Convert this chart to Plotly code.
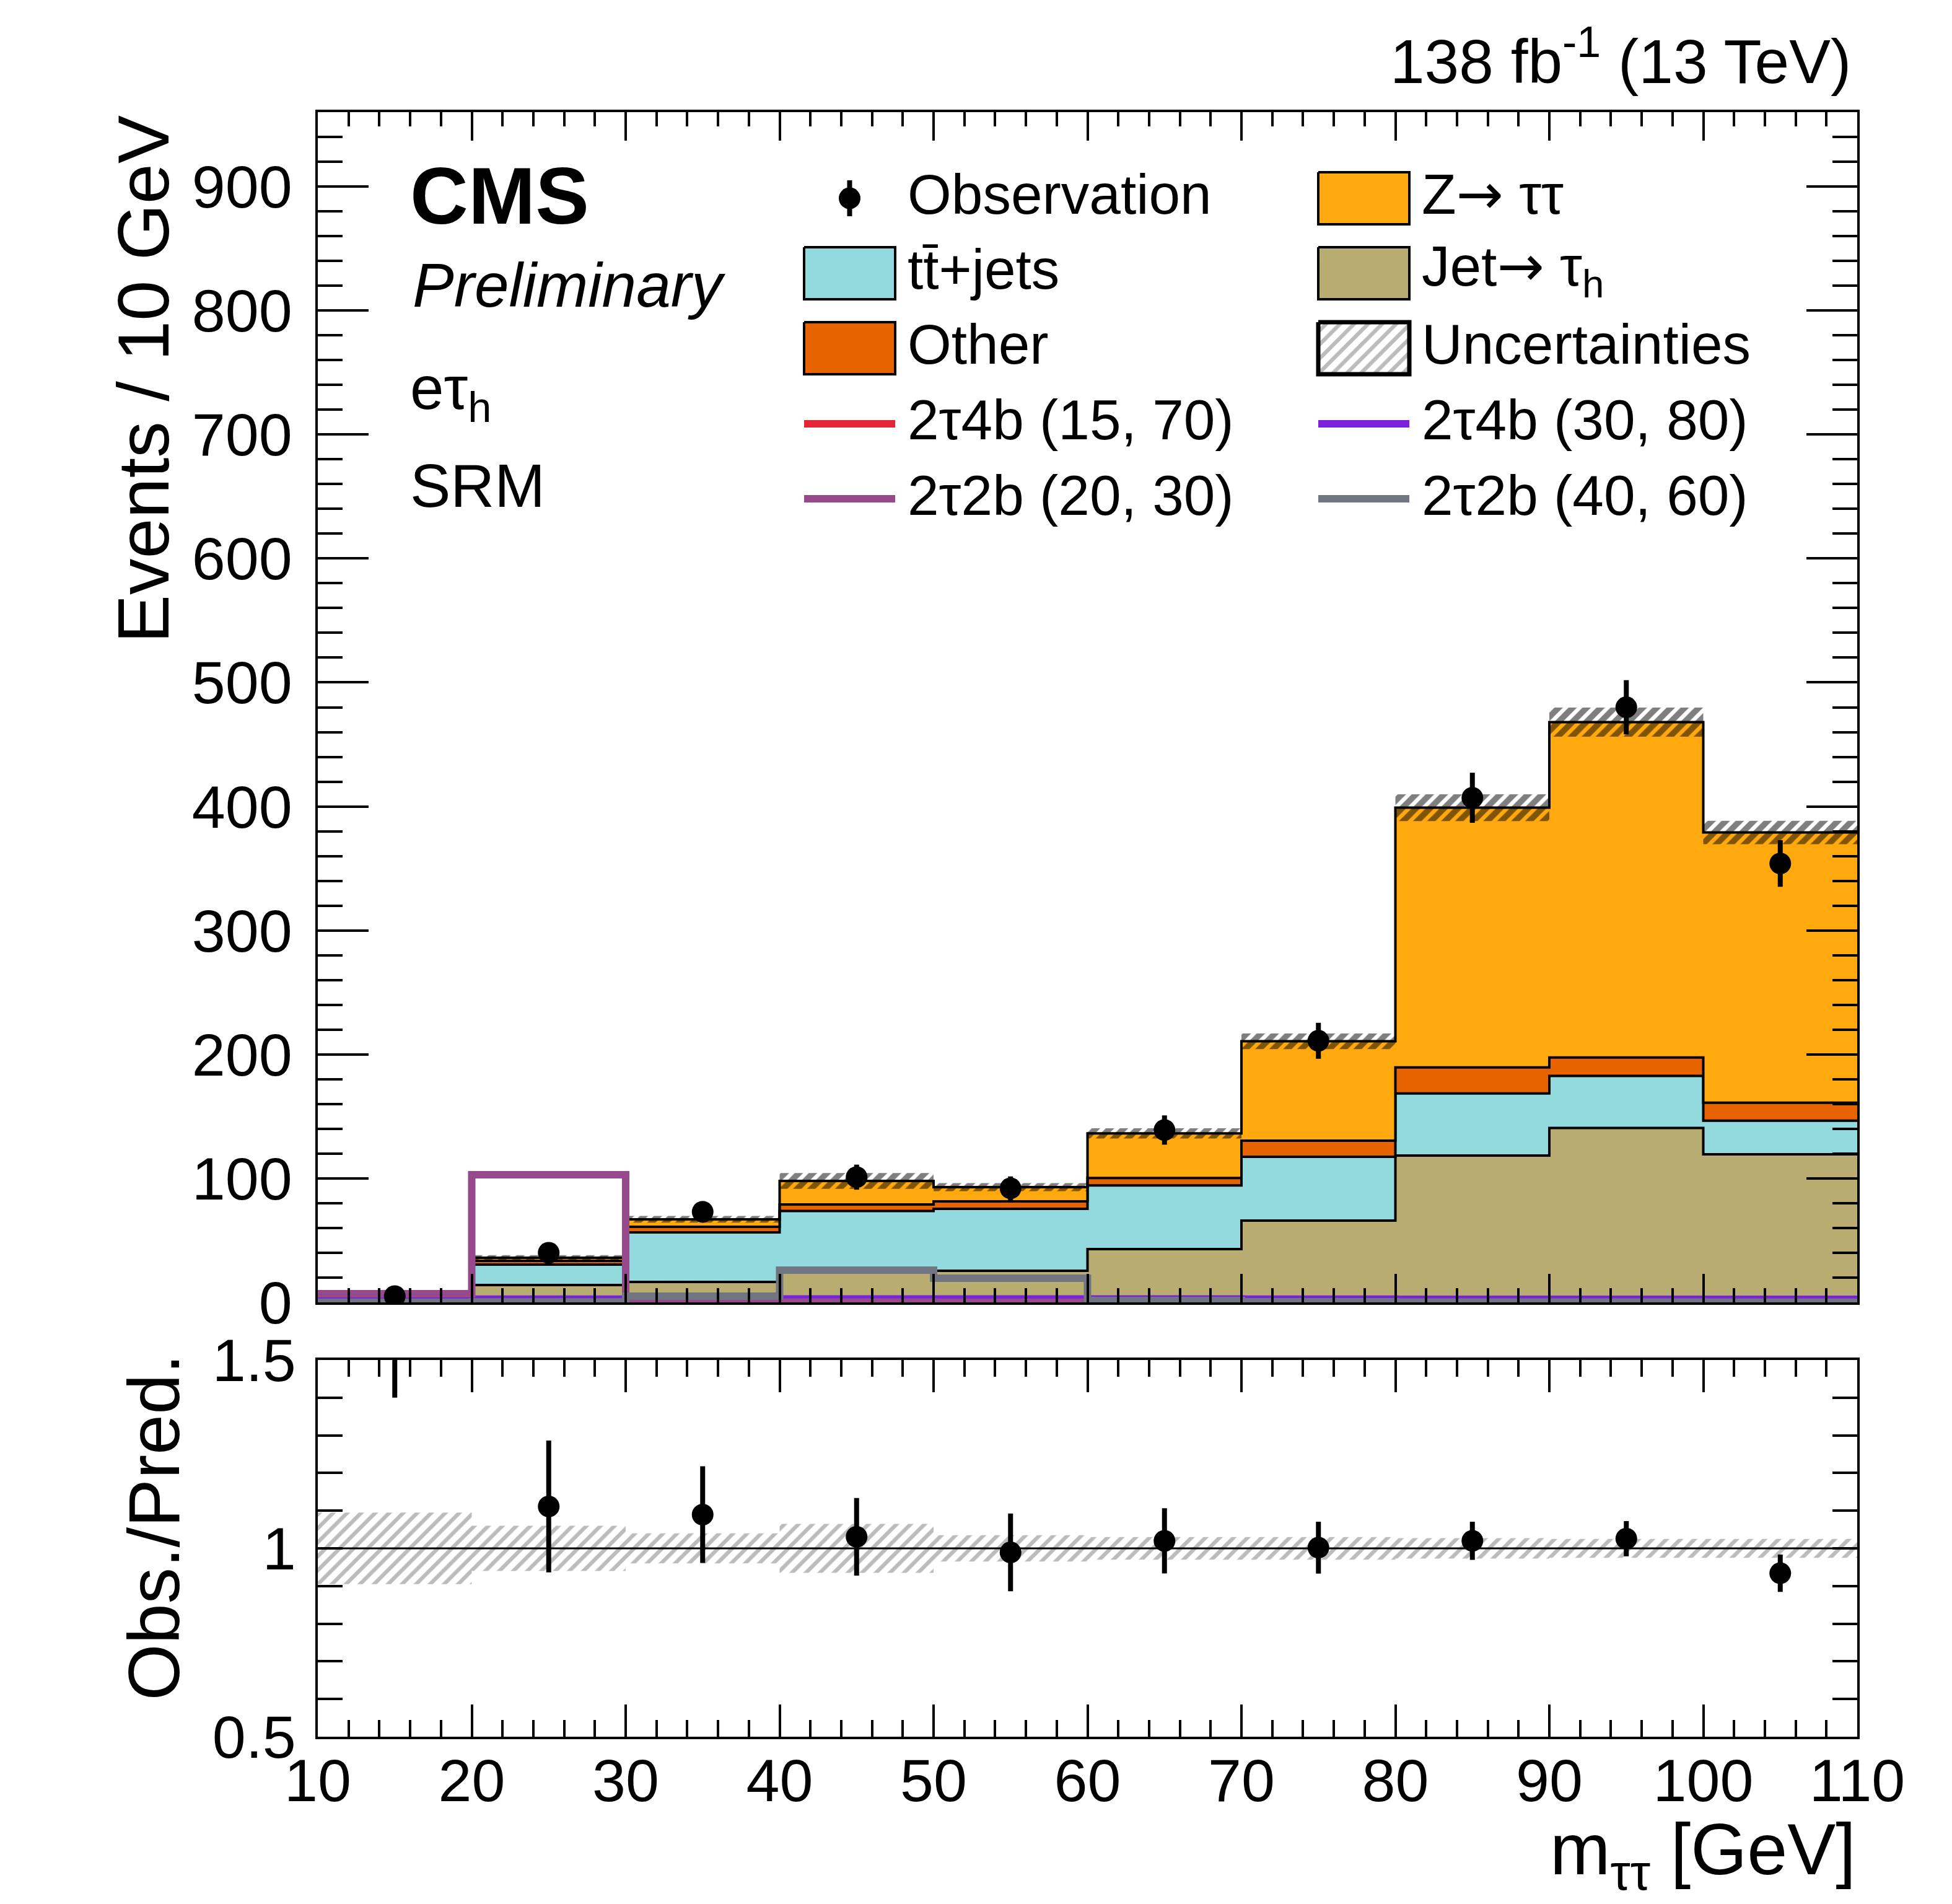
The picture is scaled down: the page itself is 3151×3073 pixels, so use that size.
import numpy as np
import plotly.graph_objects as go

W, H = 3151, 3073
FONT = "Liberation Sans"

# m_tautau binning (GeV)
bin_edges = [10, 20, 30, 40, 50, 60, 70, 80, 90, 100, 110]

# stacked backgrounds (events / 10 GeV), bottom to top
jet_to_tau = [1.1, 14.0, 16.5, 24.0, 25.5, 43.0, 66.0, 118.4, 140.7, 119.4]
ttbar_jets = [0.5, 16.5, 40.0, 49.7, 50.0, 51.3, 51.4, 50.1, 42.0, 27.1]
other_bkg = [0.1, 3.0, 4.5, 5.3, 6.0, 6.0, 13.0, 21.0, 14.8, 14.5]
z_tautau = [0.3, 2.5, 6.0, 19.0, 11.5, 36.0, 80.2, 209.5, 270.5, 218.0]
# relative uncertainty of the prediction
unc_rel = [0.095, 0.06, 0.04, 0.065, 0.035, 0.03, 0.03, 0.027, 0.025, 0.025]

# data
obs = [5, 40, 73, 101, 92, 139, 211, 407, 480, 354]
obs_err = [2.2, 6.3, 8.6, 10.1, 9.6, 11.8, 14.5, 20.2, 21.9, 18.8]

# signal hypotheses
sig_2t4b_15_70 = [2.0, 2.2, 2.3, 2.3, 2.2, 2.2, 2.1, 2.0, 2.0, 2.0]
sig_2t4b_30_80 = [2.5, 2.6, 2.8, 2.8, 2.7, 2.7, 2.6, 2.5, 2.5, 2.5]
sig_2t2b_20_30 = [7.0, 103.0, 0.5, 0.2, 0.1, 0.1, 0.1, 0.1, 0.1, 0.1]
sig_2t2b_40_60 = [0.1, 0.4, 5.0, 26.0, 19.5, 1.5, 0.5, 0.3, 0.2, 0.1]

COL_Z = "#ffa90e"
COL_TT = "#92dadd"
COL_OTHER = "#e76300"
COL_JET = "#b9ac70"
COL_R = "#e42536"
COL_V = "#7a21dd"
COL_M = "#964a8b"
COL_G = "#717581"

ARROW = "<span style='font-family:DejaVu Sans'>\u2192</span>"


def steps(vals):
    return bin_edges, list(vals) + [vals[-1]]


def px(x):
    return x / W


def py(y):
    return 1 - y / H


centers = [(a + b) / 2 for a, b in zip(bin_edges[:-1], bin_edges[1:])]
total = np.array(jet_to_tau) + np.array(ttbar_jets) + np.array(other_bkg) + np.array(z_tautau)

fig = go.Figure()

# ---- main panel: stack
cum = np.zeros(len(total))
for i, (vals, col) in enumerate([(jet_to_tau, COL_JET), (ttbar_jets, COL_TT),
                                  (other_bkg, COL_OTHER), (z_tautau, COL_Z)]):
    cum = cum + np.array(vals)
    x, y = steps(cum)
    fig.add_trace(go.Scatter(
        x=x, y=y, mode="lines", line=dict(color="black", width=4, shape="hv"),
        fill="tozeroy" if i == 0 else "tonexty", fillcolor=col,
        xaxis="x", yaxis="y", hoverinfo="skip"))

# uncertainty band
x, ylo = steps(total * (1 - np.array(unc_rel)))
_, yhi = steps(total * (1 + np.array(unc_rel)))
fig.add_trace(go.Scatter(x=x, y=ylo, mode="lines", line=dict(width=0, shape="hv"),
                         xaxis="x", yaxis="y", hoverinfo="skip"))
fig.add_trace(go.Scatter(
    x=x, y=yhi, mode="lines", line=dict(width=0, shape="hv"), fill="tonexty",
    fillcolor="rgba(0,0,0,0)",
    fillpattern=dict(shape="/", fgcolor="#000000", bgcolor="rgba(0,0,0,0)",
                     size=16, solidity=0.6),
    xaxis="x", yaxis="y", hoverinfo="skip"))

# signals
for vals, col in [(sig_2t4b_15_70, COL_R), (sig_2t4b_30_80, COL_V),
                  (sig_2t2b_20_30, COL_M), (sig_2t2b_40_60, COL_G)]:
    x, y = steps(vals)
    fig.add_trace(go.Scatter(x=x, y=y, mode="lines", line=dict(color=col, width=12, shape="hv"),
                             cliponaxis=False, xaxis="x", yaxis="y", hoverinfo="skip"))

# observation
fig.add_trace(go.Scatter(
    x=centers, y=obs, mode="markers", marker=dict(color="black", size=35),
    error_y=dict(type="data", array=obs_err, color="black", thickness=8, width=0),
    xaxis="x", yaxis="y"))

# ---- ratio panel
x, ylo = steps(1 - np.array(unc_rel))
_, yhi = steps(1 + np.array(unc_rel))
fig.add_trace(go.Scatter(x=x, y=ylo, mode="lines", line=dict(width=0, shape="hv"),
                         xaxis="x2", yaxis="y2", hoverinfo="skip"))
fig.add_trace(go.Scatter(
    x=x, y=yhi, mode="lines", line=dict(width=0, shape="hv"), fill="tonexty",
    fillcolor="rgba(0,0,0,0)",
    fillpattern=dict(shape="/", fgcolor="#7a7a7a", bgcolor="rgba(0,0,0,0)",
                     size=16, solidity=0.4),
    xaxis="x2", yaxis="y2", hoverinfo="skip"))
fig.add_trace(go.Scatter(x=[bin_edges[0], bin_edges[-1]], y=[1, 1], mode="lines",
                         line=dict(color="black", width=3), xaxis="x2", yaxis="y2"))
ratio = np.array(obs) / total
ratio_err = np.array(obs_err) / total
fig.add_trace(go.Scatter(
    x=centers, y=ratio, mode="markers", marker=dict(color="black", size=35),
    error_y=dict(type="data", array=ratio_err, color="black", thickness=8, width=0),
    cliponaxis=True, xaxis="x2", yaxis="y2"))

# ---- legend (drawn on an overlay axis in paper units)
row_y = [312, 433, 554, 676, 797]
col_x = [1290, 2120]
sw_w, sw_h = 147, 84
legend_items = [
    (0, 0, "obs", "Observation", None),
    (1, 0, "fill", "Z" + ARROW + " \u03c4\u03c4", COL_Z),
    (0, 1, "fill", "tt\u0304+jets", COL_TT),
    (1, 1, "fill", "Jet" + ARROW + " \u03c4<sub>h</sub>", COL_JET),
    (0, 2, "fill", "Other", COL_OTHER),
    (1, 2, "hatch", "Uncertainties", None),
    (0, 3, "line", "2\u03c44b (15, 70)", COL_R),
    (1, 3, "line", "2\u03c44b (30, 80)", COL_V),
    (0, 4, "line", "2\u03c42b (20, 30)", COL_M),
    (1, 4, "line", "2\u03c42b (40, 60)", COL_G),
]
annotations = []
for c, r, kind, label, col in legend_items:
    x0, x1 = col_x[c], col_x[c] + sw_w
    yc = row_y[r]
    if kind in ("fill", "hatch"):
        xs = [px(x0), px(x1), px(x1), px(x0), px(x0)]
        ys = [py(yc - sw_h / 2), py(yc - sw_h / 2), py(yc + sw_h / 2), py(yc + sw_h / 2), py(yc - sw_h / 2)]
        if kind == "fill":
            fig.add_trace(go.Scatter(x=xs, y=ys, mode="lines", fill="toself", fillcolor=col,
                                     line=dict(color="black", width=4), xaxis="x3", yaxis="y3"))
        else:
            fig.add_trace(go.Scatter(
                x=xs, y=ys, mode="lines", fill="toself", fillcolor="rgba(0,0,0,0)",
                fillpattern=dict(shape="/", fgcolor="#7a7a7a", bgcolor="white", size=16, solidity=0.4),
                line=dict(color="black", width=7), xaxis="x3", yaxis="y3"))
    elif kind == "line":
        fig.add_trace(go.Scatter(x=[px(x0), px(x1)], y=[py(yc), py(yc)], mode="lines",
                                 line=dict(color=col, width=12), xaxis="x3", yaxis="y3"))
    else:
        fig.add_trace(go.Scatter(
            x=[px((x0 + x1) / 2)], y=[py(yc)], mode="markers", marker=dict(color="black", size=35),
            error_y=dict(type="data", array=[29 / H], color="black", thickness=8, width=0),
            xaxis="x3", yaxis="y3"))
    annotations.append(dict(x=px(x1 + 18), y=py(yc - 6), xref="paper", yref="paper", text=label,
                            xanchor="left", yanchor="middle", showarrow=False,
                            font=dict(size=91, color="black", family=FONT)))

# ---- texts
texts = [
    dict(x=px(652), y=py(308), text="<b>CMS</b>", xanchor="left", yanchor="middle",
         font=dict(size=130)),
    dict(x=px(656), y=py(452), text="<i>Preliminary</i>", xanchor="left", yanchor="middle",
         font=dict(size=100)),
    dict(x=px(652), y=py(626), text="e\u03c4<sub>h</sub>", xanchor="left", yanchor="middle",
         font=dict(size=98)),
    dict(x=px(652), y=py(776), text="SRM", xanchor="left", yanchor="middle",
         font=dict(size=98)),
    dict(x=px(2982), y=py(84), text="138 fb<sup>-1</sup> (13 TeV)", xanchor="right",
         yanchor="middle", font=dict(size=100)),
    dict(x=px(2990), y=py(2985), text="m<sub>\u03c4\u03c4</sub> [GeV]", xanchor="right",
         yanchor="middle", font=dict(size=117)),
    dict(x=px(224), y=py(176), text="Events / 10 GeV", textangle=-90, xanchor="center",
         yanchor="top", font=dict(size=117)),
    dict(x=px(240), y=py(2176), text="Obs./Pred.", textangle=-90, xanchor="center",
         yanchor="top", font=dict(size=117)),
]
for a in texts:
    a.update(xref="paper", yref="paper", showarrow=False)
    a["font"].update(color="black", family=FONT)
annotations += texts

x_dom = [px(505), px(2990)]
common = dict(showline=True, linewidth=4, linecolor="black", mirror="ticks", ticks="inside",
              tickwidth=4, tickcolor="black", showgrid=False, zeroline=False, automargin=False,
              tickfont=dict(size=97, color="black", family=FONT))

fig.update_layout(
    width=W, height=H, margin=dict(l=0, r=0, t=0, b=0, autoexpand=False),
    paper_bgcolor="white", plot_bgcolor="rgba(0,0,0,0)", showlegend=False,
    font=dict(family=FONT, color="black"),
    annotations=annotations,
    xaxis=dict(domain=x_dom, range=[10, 110], anchor="y", showticklabels=False,
               tick0=10, dtick=10, ticklen=46,
               minor=dict(dtick=2, ticklen=23, tickwidth=4, ticks="inside", tickcolor="black"),
               **common),
    yaxis=dict(domain=[py(2094), py(173)], range=[0, 960], anchor="x",
               tick0=0, dtick=100, ticklen=82, ticklabelstandoff=18,
               minor=dict(dtick=20, ticklen=40, tickwidth=4, ticks="inside", tickcolor="black"),
               **common),
    xaxis2=dict(domain=x_dom, range=[10, 110], anchor="y2",
                tick0=10, dtick=10, ticklen=52, ticklabelstandoff=-16,
                minor=dict(dtick=2, ticklen=27, tickwidth=4, ticks="inside", tickcolor="black"),
                **common),
    yaxis2=dict(domain=[py(2795), py(2187)], range=[0.5, 1.5], anchor="x2",
                tick0=0.5, dtick=0.5, ticklen=40, ticklabelstandoff=12,
                minor=dict(dtick=0.1, ticklen=40, tickwidth=4, ticks="inside", tickcolor="black"),
                **common),
    xaxis3=dict(domain=[0, 1], range=[0, 1], anchor="y3", visible=False, fixedrange=True),
    yaxis3=dict(domain=[0, 1], range=[0, 1], anchor="x3", visible=False, fixedrange=True),
)

fig.write_html("out.html")
